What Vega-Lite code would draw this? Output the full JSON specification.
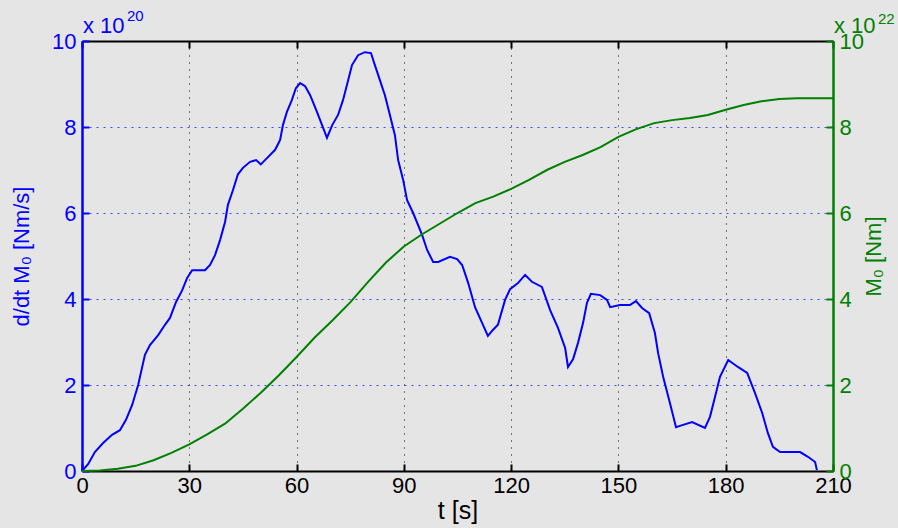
{
  "$schema": "https://vega.github.io/schema/vega-lite/v6.json",
  "width": 751,
  "height": 430,
  "autosize": {"type": "none"},
  "padding": {"left": 82, "top": 41, "right": 65, "bottom": 57},
  "background": "#e5e5e5",
  "config": {
    "view": {"stroke": null},
    "font": "Liberation Sans",
    "axis": {"labelFont": "Liberation Sans", "titleFont": "Liberation Sans", "titleFontWeight": "normal", "labelFlush": false}
  },
  "datasets": {
    "rate": [
      {"t": 0, "v": 0}, {"t": 1.7, "v": 0.16}, {"t": 3.6, "v": 0.44}, {"t": 5.9, "v": 0.65},
      {"t": 8.4, "v": 0.84}, {"t": 10.6, "v": 0.95}, {"t": 12.3, "v": 1.19}, {"t": 14, "v": 1.53},
      {"t": 15.7, "v": 2.0}, {"t": 17.6, "v": 2.7}, {"t": 19, "v": 2.93}, {"t": 21.3, "v": 3.16},
      {"t": 23.2, "v": 3.4}, {"t": 24.6, "v": 3.56}, {"t": 26.3, "v": 3.93}, {"t": 28, "v": 4.2},
      {"t": 29.4, "v": 4.49}, {"t": 30.8, "v": 4.67}, {"t": 34.4, "v": 4.67}, {"t": 35.8, "v": 4.79},
      {"t": 37.2, "v": 5.02}, {"t": 38.6, "v": 5.37}, {"t": 40, "v": 5.79}, {"t": 40.8, "v": 6.19},
      {"t": 42.2, "v": 6.53}, {"t": 43.6, "v": 6.9}, {"t": 45, "v": 7.05}, {"t": 47, "v": 7.19},
      {"t": 48.7, "v": 7.23}, {"t": 50, "v": 7.13}, {"t": 52, "v": 7.3}, {"t": 54, "v": 7.47},
      {"t": 55.4, "v": 7.7}, {"t": 56.2, "v": 8.05}, {"t": 57.3, "v": 8.35}, {"t": 58.7, "v": 8.63},
      {"t": 59.8, "v": 8.9}, {"t": 61, "v": 9.02}, {"t": 62.4, "v": 8.95}, {"t": 63.8, "v": 8.74},
      {"t": 65.7, "v": 8.35}, {"t": 67.1, "v": 8.05}, {"t": 68.5, "v": 7.75}, {"t": 70, "v": 8.05},
      {"t": 71.6, "v": 8.28}, {"t": 73, "v": 8.63}, {"t": 74.1, "v": 8.98}, {"t": 75.5, "v": 9.44},
      {"t": 77.2, "v": 9.67}, {"t": 79.1, "v": 9.74}, {"t": 80.8, "v": 9.72}, {"t": 81.9, "v": 9.44},
      {"t": 83.3, "v": 9.09}, {"t": 84.7, "v": 8.74}, {"t": 86.1, "v": 8.28}, {"t": 87.5, "v": 7.81},
      {"t": 88.4, "v": 7.23}, {"t": 89.8, "v": 6.77}, {"t": 90.9, "v": 6.3}, {"t": 92.6, "v": 6.0},
      {"t": 95.1, "v": 5.49}, {"t": 96.5, "v": 5.14}, {"t": 98.2, "v": 4.86}, {"t": 99.6, "v": 4.86},
      {"t": 102.9, "v": 4.98}, {"t": 104.9, "v": 4.93}, {"t": 106.3, "v": 4.79}, {"t": 108, "v": 4.37},
      {"t": 109.9, "v": 3.81}, {"t": 111.9, "v": 3.44}, {"t": 113.5, "v": 3.14}, {"t": 114.9, "v": 3.28},
      {"t": 116.3, "v": 3.4}, {"t": 118.3, "v": 3.98}, {"t": 119.7, "v": 4.23}, {"t": 121.9, "v": 4.37},
      {"t": 123.9, "v": 4.56}, {"t": 125.8, "v": 4.4}, {"t": 128.6, "v": 4.28}, {"t": 130.9, "v": 3.74},
      {"t": 133.1, "v": 3.33}, {"t": 135.1, "v": 2.86}, {"t": 135.9, "v": 2.42}, {"t": 137.3, "v": 2.6},
      {"t": 138.7, "v": 2.98}, {"t": 140.1, "v": 3.44}, {"t": 141.2, "v": 3.91}, {"t": 142.3, "v": 4.12},
      {"t": 144.9, "v": 4.09}, {"t": 146.8, "v": 3.98}, {"t": 147.7, "v": 3.81}, {"t": 150.4, "v": 3.86},
      {"t": 153.2, "v": 3.86}, {"t": 154.9, "v": 3.95}, {"t": 156.6, "v": 3.79}, {"t": 158.6, "v": 3.67},
      {"t": 160.2, "v": 3.21}, {"t": 161.1, "v": 2.74}, {"t": 162.5, "v": 2.19}, {"t": 164.4, "v": 1.58},
      {"t": 166.1, "v": 1.02}, {"t": 167.2, "v": 1.05}, {"t": 170.6, "v": 1.14}, {"t": 174.2, "v": 1.0},
      {"t": 175.6, "v": 1.26}, {"t": 177, "v": 1.72}, {"t": 178.4, "v": 2.19}, {"t": 180.7, "v": 2.58},
      {"t": 183.4, "v": 2.42}, {"t": 186, "v": 2.28}, {"t": 188.2, "v": 1.81}, {"t": 190.2, "v": 1.35},
      {"t": 191.8, "v": 0.88}, {"t": 193.2, "v": 0.56}, {"t": 195.2, "v": 0.44}, {"t": 200.8, "v": 0.44},
      {"t": 203, "v": 0.33}, {"t": 205, "v": 0.21}, {"t": 205.5, "v": 0.02}
    ],
    "moment": [
      {"t": 0, "m": 0}, {"t": 5, "m": 0.01}, {"t": 10, "m": 0.05}, {"t": 15, "m": 0.12},
      {"t": 20, "m": 0.25}, {"t": 25, "m": 0.42}, {"t": 30, "m": 0.62}, {"t": 35, "m": 0.85},
      {"t": 40, "m": 1.1}, {"t": 45, "m": 1.45}, {"t": 50, "m": 1.82}, {"t": 55, "m": 2.22},
      {"t": 60, "m": 2.65}, {"t": 65, "m": 3.1}, {"t": 70, "m": 3.5}, {"t": 75, "m": 3.92},
      {"t": 80, "m": 4.4}, {"t": 85, "m": 4.85}, {"t": 90, "m": 5.22}, {"t": 95, "m": 5.5},
      {"t": 100, "m": 5.75}, {"t": 105, "m": 6.0}, {"t": 110, "m": 6.23}, {"t": 115, "m": 6.38},
      {"t": 120, "m": 6.56}, {"t": 125, "m": 6.77}, {"t": 130, "m": 7.0}, {"t": 135, "m": 7.19},
      {"t": 140, "m": 7.35}, {"t": 145, "m": 7.53}, {"t": 150, "m": 7.77}, {"t": 155, "m": 7.95},
      {"t": 160, "m": 8.09}, {"t": 165, "m": 8.16}, {"t": 170, "m": 8.21}, {"t": 175, "m": 8.28},
      {"t": 180, "m": 8.4}, {"t": 185, "m": 8.51}, {"t": 190, "m": 8.6}, {"t": 195, "m": 8.65},
      {"t": 200, "m": 8.67}, {"t": 210, "m": 8.67}
    ],
    "one": [{"k": 1}]
  },
  "layer": [
    {
      "layer": [
        {
          "data": {"name": "rate"},
          "mark": {"type": "line", "color": "#0000ff", "strokeWidth": 2},
          "encoding": {
            "x": {
              "field": "t", "type": "quantitative",
              "scale": {"domain": [0, 210], "nice": false, "zero": false},
              "axis": {
                "orient": "bottom", "values": [0, 30, 60, 90, 120, 150, 180, 210],
                "title": "t [s]", "titleFontSize": 25, "titleColor": "#000000", "titlePadding": 2,
                "labelFontSize": 22, "labelColor": "#000000", "labelPadding": 11,
                "domainColor": "#000000", "domainWidth": 2,
                "tickColor": "#000000", "tickSize": -7, "tickWidth": 2,
                "grid": true, "gridColor": "#000000", "gridDash": [1, 6], "gridOpacity": 1, "gridWidth": 1
              }
            },
            "y": {
              "field": "v", "type": "quantitative",
              "scale": {"domain": [0, 10], "nice": false},
              "axis": {
                "orient": "left", "values": [0, 2, 4, 6, 8, 10],
                "title": "d/dt M₀ [Nm/s]", "titleFontSize": 22, "titleColor": "#0000ff", "titlePadding": 18,
                "labelFontSize": 22, "labelColor": "#0000ff", "labelPadding": 13,
                "domainColor": "#0000ff", "domainWidth": 2.5,
                "tickColor": "#0000ff", "tickSize": -7, "tickWidth": 2,
                "grid": true, "gridColor": "#0000ff", "gridDash": [2, 5], "gridOpacity": 0.7, "gridWidth": 1.2
              }
            }
          }
        },
        {
          "data": {"name": "one"},
          "mark": {"type": "text", "color": "#0000ff", "fontSize": 22, "font": "Liberation Sans", "align": "left", "baseline": "alphabetic", "dx": 1, "dy": -8},
          "encoding": {
            "x": {"datum": 0, "type": "quantitative"},
            "y": {"datum": 10, "type": "quantitative"},
            "text": {"value": "x 10"}
          }
        },
        {
          "data": {"name": "one"},
          "mark": {"type": "text", "color": "#0000ff", "fontSize": 15, "font": "Liberation Sans", "align": "left", "baseline": "alphabetic", "dx": 45, "dy": -20},
          "encoding": {
            "x": {"datum": 0, "type": "quantitative"},
            "y": {"datum": 10, "type": "quantitative"},
            "text": {"value": "20"}
          }
        }
      ]
    },
    {
      "layer": [
        {
          "data": {"name": "moment"},
          "mark": {"type": "line", "color": "#008000", "strokeWidth": 2},
          "encoding": {
            "x": {
              "field": "t", "type": "quantitative",
              "scale": {"domain": [0, 210], "nice": false, "zero": false},
              "axis": {
                "orient": "top", "values": [0, 30, 60, 90, 120, 150, 180, 210],
                "labels": false, "grid": false, "title": null,
                "domainColor": "#000000", "domainWidth": 2,
                "tickColor": "#000000", "tickSize": -7, "tickWidth": 2
              }
            },
            "y": {
              "field": "m", "type": "quantitative",
              "scale": {"domain": [0, 10], "nice": false},
              "axis": {
                "orient": "right", "values": [0, 2, 4, 6, 8, 10],
                "title": "M₀ [Nm]", "titleFontSize": 22, "titleColor": "#008000", "titleAngle": 270, "titlePadding": 22,
                "labelFontSize": 22, "labelColor": "#008000", "labelPadding": 13,
                "domainColor": "#008000", "domainWidth": 2.5,
                "tickColor": "#008000", "tickSize": -7, "tickWidth": 2,
                "grid": false
              }
            }
          }
        },
        {
          "data": {"name": "one"},
          "mark": {"type": "text", "color": "#008000", "fontSize": 22, "font": "Liberation Sans", "align": "left", "baseline": "alphabetic", "dx": 1, "dy": -8},
          "encoding": {
            "x": {"datum": 210, "type": "quantitative"},
            "y": {"datum": 10, "type": "quantitative"},
            "text": {"value": "x 10"}
          }
        },
        {
          "data": {"name": "one"},
          "mark": {"type": "text", "color": "#008000", "fontSize": 15, "font": "Liberation Sans", "align": "left", "baseline": "alphabetic", "dx": 45, "dy": -17},
          "encoding": {
            "x": {"datum": 210, "type": "quantitative"},
            "y": {"datum": 10, "type": "quantitative"},
            "text": {"value": "22"}
          }
        }
      ]
    }
  ],
  "resolve": {"scale": {"y": "independent"}, "axis": {"x": "independent", "y": "independent"}}
}
